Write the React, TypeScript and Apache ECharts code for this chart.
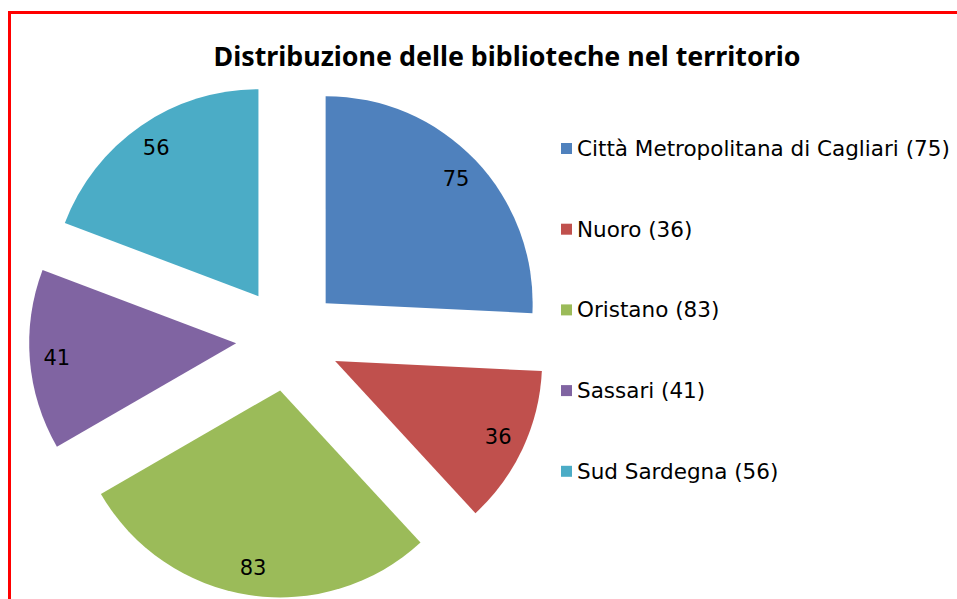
import React, { useEffect, useRef } from "react";
import * as echarts from "echarts";

const titleText = "Distribuzione delle biblioteche nel territorio";
const categories = [
  "Città Metropolitana di Cagliari",
  "Nuoro",
  "Oristano",
  "Sassari",
  "Sud Sardegna",
];
const values = [75, 36, 83, 41, 56];
const colors = ["#4F81BD", "#C0504D", "#9BBB59", "#8064A2", "#4BACC6"];

export default function App() {
  const ref = useRef<HTMLDivElement>(null);
  useEffect(() => {
    if (!ref.current) return;
    const chart = echarts.init(ref.current, null, { renderer: "svg" });
    const legendNames = categories.map((c, i) => `${c} (${values[i]})`);
    const mainData = categories.map((c, i) => ({
      name: legendNames[i],
      value: values[i],
      selected: true,
      itemStyle: { color: colors[i] },
      select: { itemStyle: { color: colors[i], borderWidth: 0 } },
    }));
    const labelData = categories.map((c, i) => ({
      name: legendNames[i],
      value: values[i],
      selected: true,
      label: { formatter: String(values[i]) },
    }));
    const center = [288, 339];
    chart.setOption({
      animation: false,
      title: {
        text: titleText,
        left: 502,
        textAlign: "center",
        top: 37,
        textStyle: {
          fontFamily: "Noto Sans",
          fontWeight: "bold",
          fontSize: 26.8,
          color: "#000",
        },
      },
      legend: {
        orient: "vertical",
        left: 561,
        top: 137.5,
        padding: 0,
        itemWidth: 11,
        itemHeight: 11,
        itemGap: 58.7,
        icon: "rect",
        selectedMode: false,
        data: legendNames.map((n, i) => ({ name: n, itemStyle: { color: colors[i] } })),
        textStyle: {
          fontFamily: "DejaVu Sans",
          fontSize: 21.5,
          lineHeight: 20,
          color: "#000",
        },
      },
      graphic: [
        {
          type: "line",
          shape: { x1: 8, y1: 12.5, x2: 957, y2: 12.5 },
          style: { stroke: "#FF0000", lineWidth: 3 },
        },
        {
          type: "line",
          shape: { x1: 9.5, y1: 11, x2: 9.5, y2: 599 },
          style: { stroke: "#FF0000", lineWidth: 3 },
        },
      ],
      series: [
        {
          type: "pie",
          center,
          radius: 207,
          startAngle: 90,
          clockwise: true,
          selectedMode: "multiple",
          selectedOffset: 52,
          silent: true,
          emphasis: { disabled: true },
          label: { show: false },
          labelLine: { show: false },
          data: mainData,
        },
        {
          type: "pie",
          center,
          radius: [150, 204],
          startAngle: 90,
          clockwise: true,
          selectedMode: "multiple",
          selectedOffset: 52,
          silent: true,
          emphasis: { disabled: true },
          itemStyle: { color: "rgba(0,0,0,0)" },
          select: { itemStyle: { color: "rgba(0,0,0,0)", borderWidth: 0 } },
          label: {
            show: true,
            position: "inside",
            fontFamily: "DejaVu Sans",
            fontSize: 21,
            color: "#000",
          },
          labelLine: { show: false },
          data: labelData,
        },
      ],
    });
    return () => chart.dispose();
  }, []);
  return (
    <div
      ref={ref}
      style={{ position: "absolute", left: 0, top: 0, width: 957, height: 599, background: "#fff" }}
    />
  );
}
